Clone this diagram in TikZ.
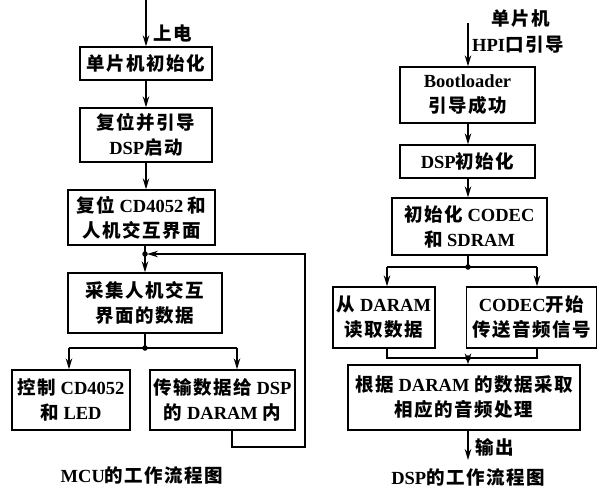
\documentclass[tikz,border=0pt]{standalone}
\usepackage{fontspec}
\setmainfont{Liberation Serif}
\newfontfamily\cjk[LetterSpace=8]{Noto Sans CJK SC}
\newcommand\zh[1]{{\cjk #1}}
\usetikzlibrary{arrows.meta}
\begin{document}
\begin{tikzpicture}[x=1pt,y=-1pt,
 box/.style={draw, line width=1.3pt, inner sep=0pt, align=center, font=\fontsize{18.5}{25}\selectfont\bfseries},
 arr/.style={line width=1.3pt,-{Stealth[length=11pt,width=6.5pt]}},
 ln/.style={line width=1.3pt},
 dot/.style={circle, fill, inner sep=0pt, minimum size=5.5pt},
 lbl/.style={font=\fontsize{18.5}{22}\selectfont\bfseries, inner sep=0pt}]
\useasboundingbox (0,0) rectangle (598,488);
% ---------- left: MCU ----------
\node[box, minimum width=132pt, minimum height=33pt] (b1) at (146,63.5) {\zh{单片机初始化}};
\node[box, minimum width=132pt, minimum height=54pt] (b2) at (146,135) {\zh{复位并引导}\\DSP\zh{启动}};
\node[box, minimum width=147pt, minimum height=55pt] (b3) at (141.5,217.5) {\zh{复位}~CD4052~\zh{和}\\\zh{人机交互界面}};
\node[box, minimum width=154pt, minimum height=60pt] (b4) at (145,303) {\zh{采集人机交互}\\\zh{界面的数据}};
\node[box, minimum width=118pt, minimum height=60pt] (b5) at (71,400) {\zh{控制}~CD4052\\\zh{和}~LED};
\node[box, minimum width=145pt, minimum height=60pt] (b6) at (222.5,400) {\zh{传输数据给}~DSP\\\zh{的}~DARAM~\zh{内}};
\coordinate (s1) at (146,0);
\coordinate (j1) at (145,254);
\coordinate (j2) at (145,348);
\coordinate (j2l) at (69,348);
\coordinate (j2r) at (237,348);
\coordinate (f1) at (232,447);
\coordinate (f2) at (305,447);
\coordinate (f3) at (305,254);
\coordinate (f4) at (147,254);
\draw[arr] (s1) -- (b1.north);
\node[lbl, anchor=west] (pw) at (153,33) {\zh{上电}};
\draw[arr] (b1.south) -- (b2.north);
\draw[arr] (b2.south) -- (b2.south |- b3.north);
\draw[ln] (b3.south -| j1) -- (j1);
\draw[arr] (j1) -- (j1 |- b4.north);
\node[dot] at (j1) {};
\draw[ln] (b4.south -| j2) -- (j2);
\draw[ln] (j2l) -- (j2r);
\node[dot] at (j2) {};
\draw[arr] (j2l) -- (j2l |- b5.north);
\draw[arr] (j2r) -- (j2r |- b6.north);
\draw[arr] (b6.south -| f1) -- (f1) -- (f2) -- (f3) -- (f4);
\node[font=\fontsize{18.5}{22}\selectfont\bfseries] (c1) at (142,475) {MCU\zh{的工作流程图}};
% ---------- right: DSP ----------
\node[box, minimum width=135pt, minimum height=56pt] (r1) at (467.5,95) {Bootloader\\\zh{引导成功}};
\node[box, minimum width=135pt, minimum height=33pt] (r2) at (467.5,161.5) {DSP\zh{初始化}};
\node[box, minimum width=155pt, minimum height=57pt] (r3) at (469.5,226.5) {\zh{初始化}~CODEC\\\zh{和}~SDRAM};
\node[box, minimum width=102pt, minimum height=61pt] (r4) at (384,317.5) {\zh{从}~DARAM\\\zh{读取数据}};
\node[box, minimum width=130pt, minimum height=61pt] (r5) at (531.5,317.5) {CODEC\zh{开始}\\\zh{传送音频信号}};
\node[box, minimum width=232pt, minimum height=65pt] (r6) at (464,397.5) {\zh{根据}~DARAM~\zh{的数据采取}\\\zh{相应的音频处理}};
\coordinate (s2) at (468,23);
\coordinate (j3) at (468,267);
\coordinate (j3l) at (387,267);
\coordinate (j3r) at (537,267);
\coordinate (j4) at (468,358);
\coordinate (j4l) at (387,358);
\coordinate (j4r) at (537,358);
\coordinate (o1) at (468,460);
\draw[arr] (s2) -- (s2 |- r1.north);
\node[lbl] (t1) at (521,19) {\zh{单片机}};
\node[lbl, anchor=west] (t2) at (472,45) {HPI\zh{口引导}};
\draw[arr] (r1.south -| s2) -- (s2 |- r2.north);
\draw[arr] (r2.south -| s2) -- (s2 |- r3.north);
\draw[ln] (r3.south -| j3) -- (j3);
\draw[ln] (j3l) -- (j3r);
\node[dot] at (j3) {};
\draw[arr] (j3l) -- (j3l |- r4.north);
\draw[arr] (j3r) -- (j3r |- r5.north);
\draw[ln] (r4.south -| j4l) -- (j4l) -- (j4r) -- (r5.south -| j4r);
\node[dot] at (j4) {};
\draw[arr] (j4) -- (j4 |- r6.north);
\draw[arr] (r6.south -| o1) -- (o1);
\node[lbl, anchor=west] (out) at (475,447) {\zh{输出}};
\node[font=\fontsize{18.5}{22}\selectfont\bfseries] (c2) at (468,477) {DSP\zh{的工作流程图}};
\end{tikzpicture}
\end{document}
